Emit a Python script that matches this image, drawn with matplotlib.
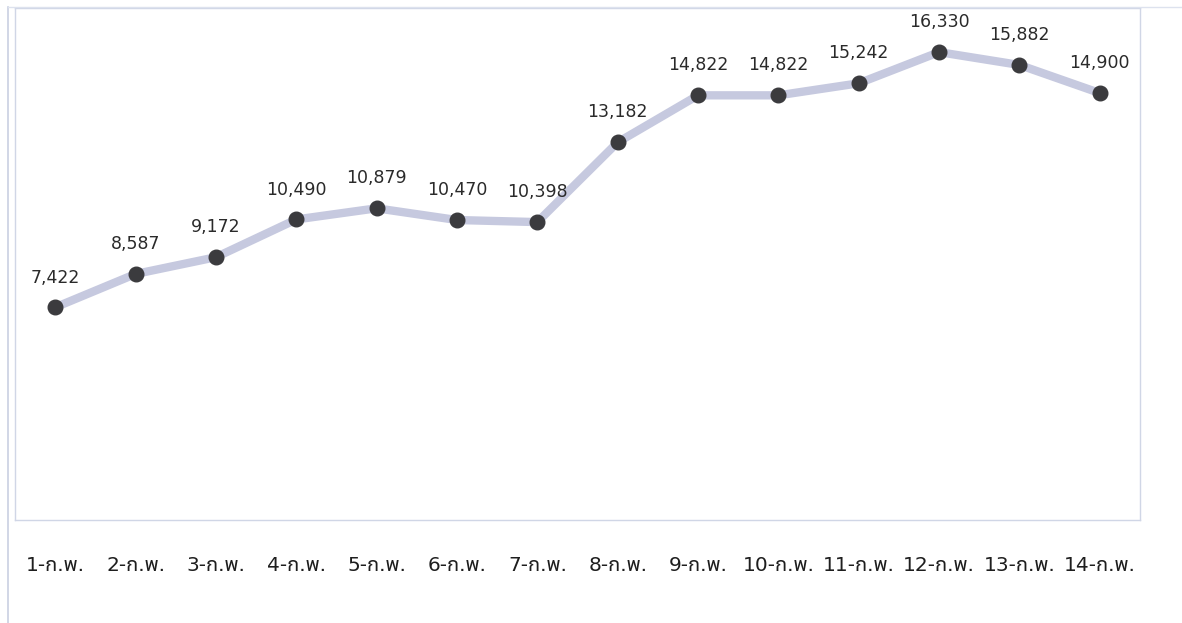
import matplotlib
matplotlib.use("Agg")
import matplotlib.pyplot as plt
from matplotlib.lines import Line2D

# ข้อมูลรายวัน
days = ["1-ก.พ.", "2-ก.พ.", "3-ก.พ.", "4-ก.พ.", "5-ก.พ.", "6-ก.พ.", "7-ก.พ.",
        "8-ก.พ.", "9-ก.พ.", "10-ก.พ.", "11-ก.พ.", "12-ก.พ.", "13-ก.พ.", "14-ก.พ."]
values = [7422, 8587, 9172, 10490, 10879, 10470, 10398,
          13182, 14822, 14822, 15242, 16330, 15882, 14900]

plt.rcParams['font.family'] = ['DejaVu Sans', 'Noto Sans Thai UI']

fig = plt.figure(figsize=(11.82, 6.23), dpi=100)
ax = fig.add_axes([15 / 1182, 103 / 623, 1125 / 1182, 512 / 623])

x = list(range(len(days)))
ax.plot(x, values, color='#c6c9df', lw=6, solid_capstyle='round', zorder=2)
ax.plot(x, values, 'o', color='#3b3b3e', markersize=10.5, zorder=3)

for xi, v in zip(x, values):
    ax.annotate(f"{v:,}", (xi, v), xytext=(0, 15), textcoords='offset points',
                ha='center', va='bottom', fontsize=12.5, color='#2a2a2a')

ax.set_xlim(-0.5, 13.5)
ax.set_ylim(0, 17870)
ax.set_yticks([])
ax.set_xticks(x)
ax.set_xticklabels(days, fontsize=14.5, color='#1e1e1e')
ax.tick_params(axis='x', length=0, pad=26)
for s in ax.spines.values():
    s.set_color('#d0d6e6')
    s.set_linewidth(1.0)

# กรอบนอกของภาพ
fig.add_artist(Line2D([8 / 1182, 8 / 1182], [0, 616 / 623], color='#c9d0e2', lw=1.2))
fig.add_artist(Line2D([8 / 1182, 1], [616 / 623, 616 / 623], color='#dde2ee', lw=1.0))

fig.savefig("out.png", dpi=100)
